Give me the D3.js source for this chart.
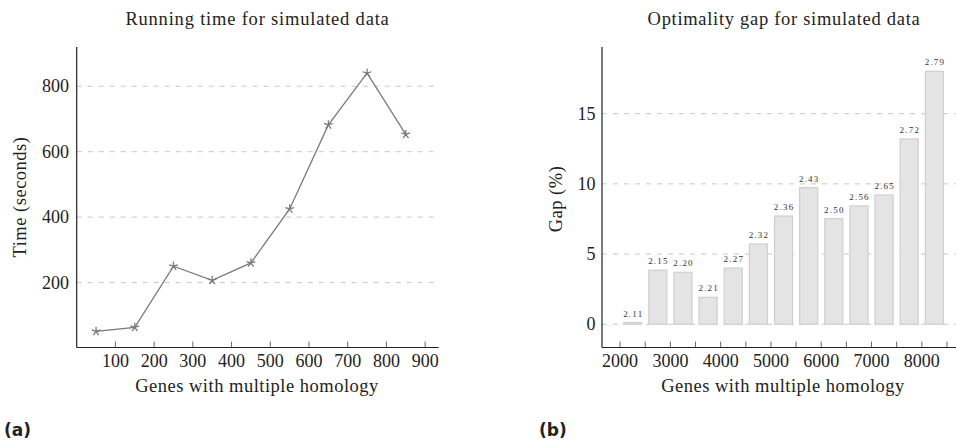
<!DOCTYPE html>
<html lang="en">
<head>
    <title>Simulated data</title>
    <script src="https://d3js.org/d3.v7.min.js"></script>
    <style>
        body { margin: 0; background: #fff; }
        svg text { fill: #222; }
        .grid line { stroke: #c8c8c8; stroke-width: 1; stroke-dasharray: 5,6; }
        .axisline { stroke: #222; stroke-width: 1.2; }
        .tick-mark { stroke: #444; stroke-width: 0.8; }
    </style>
</head>
<body>
    <svg id="chart"></svg>

    <script>
        var width = 956;
        var height = 443;
        var serif = "'Liberation Serif', 'DejaVu Serif', 'Times New Roman', Times, serif";

        // (a) running time
        var timeGenes = [50, 150, 250, 350, 450, 550, 650, 750, 850];
        var timeSeconds = [51, 63, 250, 207, 260, 425, 682, 840, 653];
        var timeXTicks = [100, 200, 300, 400, 500, 600, 700, 800, 900];
        var timeYTicks = [200, 400, 600, 800];

        // (b) optimality gap
        var gapGenes = [2250, 2750, 3250, 3750, 4250, 4750, 5250, 5750, 6250, 6750, 7250, 7750, 8250];
        var gapPercent = [0.12, 3.85, 3.7, 1.92, 4.0, 5.72, 7.71, 9.73, 7.52, 8.43, 9.21, 13.2, 18.02];
        var gapLabels = ["2.11", "2.15", "2.20", "2.21", "2.27", "2.32", "2.36", "2.43", "2.50", "2.56", "2.65", "2.72", "2.79"];
        var gapXTicks = [2000, 3000, 4000, 5000, 6000, 7000, 8000];
        var gapXMinor = [2500, 3500, 4500, 5500, 6500, 7500, 8500];
        var gapYTicks = [0, 5, 10, 15];

        var svg = d3.select("#chart")
            .attr("width", width)
            .attr("height", height);

        var axisY = 347.5;

        function label(g, x, y, txt, size, spacing) {
            return g.append("text")
                .attr("x", x).attr("y", y)
                .attr("text-anchor", "middle")
                .attr("font-family", serif)
                .attr("font-size", size)
                .style("letter-spacing", spacing + "px")
                .text(txt);
        }

        // ---------- left chart ----------
        var x1 = d3.scaleLinear().domain([0, 935]).range([76.7, 438.7]);
        var y1 = d3.scaleLinear().domain([0, 920]).range([348, 47]);

        var g1 = svg.append("g");

        g1.append("g").attr("class", "grid")
            .selectAll("line").data(timeYTicks).enter().append("line")
            .attr("x1", x1.range()[0]).attr("x2", x1.range()[1])
            .attr("y1", function (d) { return y1(d); })
            .attr("y2", function (d) { return y1(d); });

        g1.append("line").attr("class", "axisline")
            .attr("x1", x1.range()[0]).attr("x2", x1.range()[0])
            .attr("y1", 47).attr("y2", axisY);
        g1.append("line").attr("class", "axisline")
            .attr("x1", x1.range()[0]).attr("x2", x1.range()[1])
            .attr("y1", axisY).attr("y2", axisY);

        g1.selectAll(".xt").data(timeXTicks).enter().append("line")
            .attr("class", "tick-mark")
            .attr("x1", function (d) { return x1(d); })
            .attr("x2", function (d) { return x1(d); })
            .attr("y1", axisY - 6).attr("y2", axisY);

        timeXTicks.forEach(function (d) { label(g1, x1(d), 367, d, 18, 0); });
        timeYTicks.forEach(function (d) {
            label(g1, 69, y1(d), d, 18, 0).attr("text-anchor", "end").attr("dy", "0.33em");
        });

        var line = d3.line()
            .x(function (d, i) { return x1(timeGenes[i]); })
            .y(function (d) { return y1(d); });

        g1.append("path")
            .datum(timeSeconds)
            .attr("d", line)
            .attr("fill", "none")
            .attr("stroke", "#7a7a7a")
            .attr("stroke-width", 1.3);

        // star markers (5 spokes)
        var spokes = d3.range(5).map(function (k) {
            var a = -Math.PI / 2 + k * 2 * Math.PI / 5;
            return "M0,0L" + (4.6 * Math.cos(a)).toFixed(2) + "," + (4.6 * Math.sin(a)).toFixed(2);
        }).join("");

        g1.selectAll(".star").data(timeSeconds).enter().append("path")
            .attr("transform", function (d, i) { return "translate(" + x1(timeGenes[i]) + "," + y1(d) + ")"; })
            .attr("d", spokes)
            .attr("fill", "none")
            .attr("stroke", "#7a7a7a")
            .attr("stroke-width", 1.3);

        label(g1, 257.5, 25, "Running time for simulated data", 18.5, 0.8);
        label(g1, 257, 391.5, "Genes with multiple homology", 18.5, 0.5);
        label(g1, 0, 0, "Time (seconds)", 18.5, 0.5)
            .attr("transform", "translate(26,197) rotate(-90)");

        // ---------- right chart ----------
        var x2 = d3.scaleLinear().domain([1640, 8700]).range([602, 957]);
        var y2 = d3.scaleLinear().domain([-1.67, 19.75]).range([347.7, 47]);

        var g2 = svg.append("g");

        g2.append("g").attr("class", "grid")
            .selectAll("line").data(gapYTicks).enter().append("line")
            .attr("x1", x2.range()[0]).attr("x2", x2.range()[1])
            .attr("y1", function (d) { return y2(d); })
            .attr("y2", function (d) { return y2(d); });

        var barW = x2(2000 + 360) - x2(2000);

        g2.selectAll(".bar").data(gapPercent).enter().append("rect")
            .attr("x", function (d, i) { return x2(gapGenes[i]) - barW / 2; })
            .attr("y", function (d) { return y2(d); })
            .attr("width", barW)
            .attr("height", function (d) { return y2(0) - y2(d); })
            .attr("fill", "#e4e4e4")
            .attr("stroke", "#cfcfcf")
            .attr("stroke-width", 1.2);

        gapPercent.forEach(function (d, i) {
            label(g2, x2(gapGenes[i]) + 0.6, y2(d) - 6, gapLabels[i], 9, 1.2)
                .style("fill", "#333");
        });

        g2.append("line").attr("class", "axisline")
            .attr("x1", x2.range()[0]).attr("x2", x2.range()[0])
            .attr("y1", 47).attr("y2", axisY);
        g2.append("line").attr("class", "axisline")
            .attr("x1", x2.range()[0]).attr("x2", x2.range()[1])
            .attr("y1", axisY).attr("y2", axisY);

        g2.selectAll(".xt").data(gapXTicks.concat(gapXMinor)).enter().append("line")
            .attr("class", "tick-mark")
            .attr("x1", function (d) { return x2(d); })
            .attr("x2", function (d) { return x2(d); })
            .attr("y1", axisY - 6).attr("y2", axisY);

        gapXTicks.forEach(function (d) { label(g2, x2(d), 367, d, 18, 0); });
        gapYTicks.forEach(function (d) {
            label(g2, 595.5, y2(d), d, 18, 0).attr("text-anchor", "end").attr("dy", "0.33em");
        });

        label(g2, 784, 25, "Optimality gap for simulated data", 18.5, 0.7);
        label(g2, 783, 391.5, "Genes with multiple homology", 18.5, 0.5);
        label(g2, 0, 0, "Gap (%)", 18.5, 0.5)
            .attr("transform", "translate(562,199) rotate(-90)");

        // panel letters
        svg.append("text")
            .attr("x", 4).attr("y", 436)
            .attr("font-family", "'DejaVu Sans', sans-serif")
            .attr("font-weight", "bold")
            .attr("font-size", 17)
            .text("(a)");
        svg.append("text")
            .attr("x", 539).attr("y", 436)
            .attr("font-family", "'DejaVu Sans', sans-serif")
            .attr("font-weight", "bold")
            .attr("font-size", 17)
            .text("(b)");
    </script>
</body>
</html>
